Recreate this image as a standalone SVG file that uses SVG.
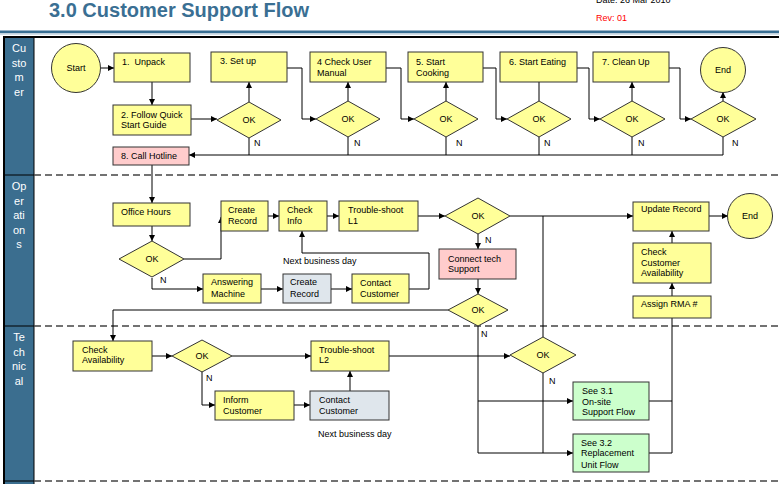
<svg xmlns="http://www.w3.org/2000/svg" width="779" height="484" viewBox="0 0 779 484">
<defs>
<marker id="arr" viewBox="0 0 10 10" refX="10" refY="5" markerWidth="7" markerHeight="6" orient="auto" markerUnits="userSpaceOnUse"><path d="M0,0 L10,5 L0,10 z" fill="#000"/></marker>
</defs>
<style>
text{font-family:"Liberation Sans",Arial,sans-serif;font-size:9px;fill:#000}
.box{fill:#ffff99;stroke:#333;stroke-width:1}
.pink{fill:#ffcccc;stroke:#333;stroke-width:1}
.grey{fill:#dfe6ec;stroke:#333;stroke-width:1}
.green{fill:#ccffcc;stroke:#333;stroke-width:1}
.c{text-anchor:middle}
.lane{font-size:11px;fill:#fff;text-anchor:middle}
.div{stroke:#444;stroke-width:1.3;stroke-dasharray:7 4;fill:none}
#connectors path{fill:none;stroke:#000;stroke-width:1}
.a{marker-end:url(#arr)}
</style>
<rect width="779" height="484" fill="#fff"/>
<g id="header">
<text x="49" y="17" style="font-size:20px;font-weight:bold;fill:#3a6f93">3.0 Customer Support Flow</text>
<text x="596" y="3">Date: 26 Mar 2010</text>
<text x="596" y="21" style="fill:#ff0000">Rev: 01</text>
<rect x="0" y="30.5" width="779" height="2.5" fill="#3a6f93"/>
<rect x="0" y="33.3" width="779" height="1.2" fill="#a9c1d2"/>
<rect x="3" y="36" width="776" height="2" fill="#000"/>
</g>
<g id="lanes">
<rect x="4" y="38" width="30" height="446" fill="#3b6e8f"/>
<rect x="3" y="36" width="2" height="448" fill="#000"/>
<line x1="34" y1="38" x2="34" y2="484" stroke="#000" stroke-width="1"/>
<line x1="4" y1="175" x2="34" y2="175" stroke="#000"/>
<line x1="4" y1="326" x2="34" y2="326" stroke="#000"/>
<line x1="4" y1="481" x2="34" y2="481" stroke="#000"/>
<path class="div" d="M34,175 H779 M34,326 H779 M34,481 H779"/>
<text class="lane" x="19" y="52">Cu</text><text class="lane" x="19" y="66.5">sto</text><text class="lane" x="19" y="81">m</text><text class="lane" x="19" y="95.5">er</text>
<text class="lane" x="19" y="190">Op</text><text class="lane" x="19" y="204.5">er</text><text class="lane" x="19" y="219">ati</text><text class="lane" x="19" y="233.5">on</text><text class="lane" x="19" y="248">s</text>
<text class="lane" x="19" y="341">Te</text><text class="lane" x="19" y="355.5">ch</text><text class="lane" x="19" y="370">nic</text><text class="lane" x="19" y="384.5">al</text>
</g>
<g id="connectors">
<path class="a" d="M101,68 H114"/>
<path class="a" d="M152,82 V105"/>
<path class="a" d="M191,119 H217"/>
<path class="a" d="M249,102 V82"/>
<path class="a" d="M287,68 H302 V119 H316"/>
<path class="a" d="M348,101 V82"/>
<path class="a" d="M386,68 H401 V119 H414"/>
<path class="a" d="M446,101 V82"/>
<path class="a" d="M483,68 H496 V119 H507"/>
<path d="M539,82 V101"/>
<path class="a" d="M577,68 H589 V119 H600"/>
<path class="a" d="M632,101 V82"/>
<path class="a" d="M669,68 H680 V119 H691"/>
<path class="a" d="M723,101 V92"/>
<path d="M249,138 V155 M348,137 V155 M446,137 V155 M539,137 V155 M632,137 V155"/>
<path class="a" d="M723,137 V155 H189"/>
<path class="a" d="M152,165 V203"/>
<path class="a" d="M152,226 V241"/>
<path class="a" d="M184,259 H221 V217"/>
<path class="a" d="M268,216 H279"/>
<path class="a" d="M327,216 H339"/>
<path class="a" d="M418,216 H445"/>
<path class="a" d="M510,216 H633"/>
<path d="M543,337 V216"/>
<path class="a" d="M478,234 V249"/>
<path class="a" d="M478,279 V294"/>
<path class="a" d="M448,310 H113 V341"/>
<path class="a" d="M152,278 V289 H203"/>
<path class="a" d="M261,289 H283"/>
<path class="a" d="M331,289 H352"/>
<path class="a" d="M409,289 H429 V253 H302 V231"/>
<path class="a" d="M672,296 V283"/>
<path class="a" d="M672,243 V231"/>
<path class="a" d="M709,216 H728"/>
<path class="a" d="M152,356 H172"/>
<path class="a" d="M232,356 H311"/>
<path class="a" d="M202,371 V405 H215"/>
<path class="a" d="M294,405 H310"/>
<path class="a" d="M350,391 V371"/>
<path class="a" d="M389,356 H510"/>
<path class="a" d="M478,325 V453 H573"/>
<path class="a" d="M478,401 H573"/>
<path d="M543,373 V453"/>
<path d="M649,401 H672 M649,453 H672 V318"/>
</g>
<g id="start"><circle class="box" cx="76" cy="68" r="24.5"/><text class="c" x="76" y="71">Start</text></g>
<g id="unpack"><rect class="box" x="114" y="53" width="76" height="29"/><text x="122" y="65" xml:space="preserve">1.  Unpack</text></g>
<g id="follow"><rect class="box" x="113" y="105" width="78" height="30"/><text x="121" y="117.5">2. Follow Quick</text><text x="121" y="128">Start Guide</text></g>
<g id="hotline"><rect class="pink" x="113" y="147" width="76" height="18"/><text x="121" y="159">8. Call Hotline</text></g>
<g id="ok1"><path class="box" d="M217,120 L249,102 L281,120 L249,138 Z"/><text class="c" x="249" y="123">OK</text><text x="254" y="146">N</text></g>
<g id="setup"><rect class="box" x="211" y="52" width="76" height="30"/><text x="220" y="64">3. Set up</text></g>
<g id="ok2"><path class="box" d="M316,119 L348,101 L380,119 L348,137 Z"/><text class="c" x="348" y="122">OK</text><text x="354" y="146">N</text></g>
<g id="manual"><rect class="box" x="310" y="52" width="76" height="30"/><text x="317" y="65">4 Check User</text><text x="317" y="76">Manual</text></g>
<g id="ok3"><path class="box" d="M414,119 L446,101 L478,119 L446,137 Z"/><text class="c" x="446" y="122">OK</text><text x="456" y="146">N</text></g>
<g id="cooking"><rect class="box" x="408" y="52" width="75" height="30"/><text x="416" y="65">5. Start</text><text x="416" y="76">Cooking</text></g>
<g id="ok4"><path class="box" d="M507,119 L539,101 L571,119 L539,137 Z"/><text class="c" x="539" y="122">OK</text><text x="544" y="146">N</text></g>
<g id="eating"><rect class="box" x="500" y="52" width="77" height="30"/><text x="509" y="65">6. Start Eating</text></g>
<g id="ok5"><path class="box" d="M600,119 L632,101 L665,119 L632,137 Z"/><text class="c" x="632" y="122">OK</text><text x="638" y="146">N</text></g>
<g id="cleanup"><rect class="box" x="593" y="52" width="76" height="30"/><text x="602" y="65">7. Clean Up</text></g>
<g id="ok6"><path class="box" d="M691,119 L723,101 L756,119 L723,137 Z"/><text class="c" x="723" y="122">OK</text><text x="732" y="146">N</text></g>
<g id="end1"><circle class="box" cx="723" cy="70" r="22.5"/><text class="c" x="723" y="73">End</text></g>
<g id="office"><rect class="box" x="113" y="203" width="77" height="23"/><text x="121" y="215">Office Hours</text></g>
<g id="ok7"><path class="box" d="M119,259 L152,241 L184,259 L152,277 Z"/><text class="c" x="152" y="262">OK</text><text x="160" y="283">N</text></g>
<g id="create1"><rect class="box" x="221" y="201" width="47" height="30"/><text x="228" y="213">Create</text><text x="228" y="224">Record</text></g>
<g id="checkinfo"><rect class="box" x="279" y="201" width="48" height="30"/><text x="287" y="213">Check</text><text x="287" y="224">Info</text></g>
<g id="ts1"><rect class="box" x="339" y="201" width="79" height="30"/><text x="348" y="213">Trouble-shoot</text><text x="348" y="224">L1</text></g>
<g id="answering"><rect class="box" x="203" y="274" width="58" height="29"/><text x="211" y="285">Answering</text><text x="211" y="297">Machine</text></g>
<g id="create2"><rect class="grey" x="283" y="274" width="48" height="29"/><text x="290" y="285">Create</text><text x="290" y="297">Record</text></g>
<g id="contact1"><rect class="box" x="352" y="274" width="57" height="29"/><text x="360" y="286">Contact</text><text x="360" y="297">Customer</text></g>
<text x="283" y="264">Next business day</text>
<g id="ok8"><path class="box" d="M445,216 L478,198 L510,216 L478,234 Z"/><text class="c" x="478" y="219">OK</text><text x="485" y="243">N</text></g>
<g id="connect"><rect class="pink" x="439" y="249" width="77" height="30"/><text x="448" y="262">Connect tech</text><text x="448" y="272">Support</text></g>
<g id="ok9"><path class="box" d="M448,310 L478,294 L508,310 L478,326 Z"/><text class="c" x="478" y="313">OK</text><text x="481" y="337">N</text></g>
<g id="update"><rect class="box" x="633" y="202" width="76" height="29"/><text x="641" y="212">Update Record</text></g>
<g id="end2"><circle class="box" cx="750" cy="216" r="22.5"/><text class="c" x="750" y="219">End</text></g>
<g id="checkcust"><rect class="box" x="633" y="243" width="78" height="40"/><text x="641" y="255">Check</text><text x="641" y="266">Customer</text><text x="641" y="276">Availability</text></g>
<g id="rma"><rect class="box" x="633" y="296" width="78" height="22"/><text x="641" y="307">Assign RMA #</text></g>
<g id="checkavail"><rect class="box" x="73" y="341" width="79" height="30"/><text x="82" y="353">Check</text><text x="82" y="363">Availability</text></g>
<g id="ok11"><path class="box" d="M172,356 L202,340 L232,356 L202,372 Z"/><text class="c" x="202" y="359">OK</text><text x="206" y="381">N</text></g>
<g id="ts2"><rect class="box" x="311" y="341" width="78" height="30"/><text x="319" y="353">Trouble-shoot</text><text x="319" y="363">L2</text></g>
<g id="inform"><rect class="box" x="215" y="391" width="79" height="29"/><text x="223" y="403">Inform</text><text x="223" y="414">Customer</text></g>
<g id="contact2"><rect class="grey" x="310" y="391" width="79" height="29"/><text x="319" y="403">Contact</text><text x="319" y="414">Customer</text></g>
<text x="318" y="437">Next business day</text>
<g id="ok10"><path class="box" d="M510,355 L543,337 L576,355 L543,373 Z"/><text class="c" x="543" y="358">OK</text><text x="549" y="384">N</text></g>
<g id="see31"><rect class="green" x="573" y="382" width="76" height="38"/><text x="582" y="394">See 3.1</text><text x="582" y="405">On-site</text><text x="582" y="415">Support Flow</text></g>
<g id="see32"><rect class="green" x="573" y="434" width="76" height="38"/><text x="581" y="446">See 3.2</text><text x="581" y="456">Replacement</text><text x="581" y="468">Unit Flow</text></g>
</svg>
